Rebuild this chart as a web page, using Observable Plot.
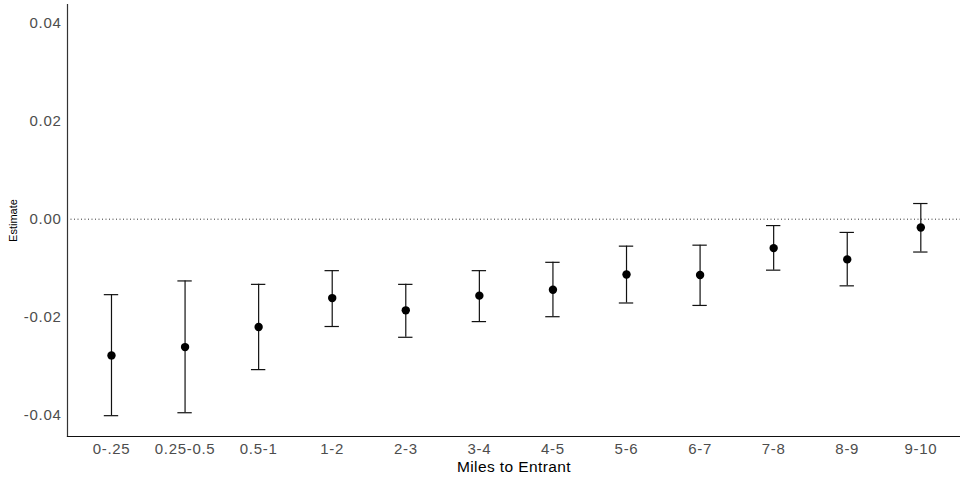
<!DOCTYPE html>
<html>
<head>
<meta charset="utf-8">
<script src="https://cdn.jsdelivr.net/npm/d3@7"></script>
<script src="https://cdn.jsdelivr.net/npm/@observablehq/plot@0.6"></script>
<style>
  html, body { margin: 0; padding: 0; background: #fff; }
  svg { display: block; }
  .tk text { letter-spacing: 0.7px; }
  .ttl text { letter-spacing: 0.4px; }
</style>
</head>
<body>
<div id="chart"></div>
<script>
const categories = ["0-.25","0.25-0.5","0.5-1","1-2","2-3","3-4","4-5","5-6","6-7","7-8","8-9","9-10"];
const estimates  = [-0.0278,-0.0261,-0.0220,-0.0161,-0.0186,-0.0156,-0.0144,-0.0113,-0.0114,-0.0059,-0.0082,-0.0017];
const lower      = [-0.0401,-0.0395,-0.0307,-0.0219,-0.0241,-0.0209,-0.0199,-0.0171,-0.0176,-0.0104,-0.0136,-0.0067];
const upper      = [-0.0154,-0.0126,-0.0133,-0.0105,-0.0133,-0.0105,-0.0088,-0.0055,-0.0053,-0.0013,-0.0027,0.0032];
const yTicks     = [-0.04,-0.02,0,0.02,0.04];

const data = categories.map((c, i) => ({cat: c, est: estimates[i], lo: lower[i], hi: upper[i]}));
const fmt = v => d3.format(".2f")(v).replace("−", "-");

const font = "'Liberation Sans', Arial, sans-serif";

const chart = Plot.plot({
  width: 960,
  height: 481,
  marginLeft: 67,
  marginRight: 0,
  marginTop: 4,
  marginBottom: 45,
  style: {fontFamily: font, background: "#fff"},
  x: {type: "band", domain: categories, range: [74.2, 957.1], padding: 0, round: false},
  y: {domain: [-0.04435, 0.04382]},
  marks: [
    Plot.axisY({ticks: yTicks, tickFormat: fmt, tickSize: 0, tickPadding: 6, label: null, fontSize: 15, fill: "#4d4d4d", className: "tk"}),
    Plot.axisX({tickSize: 0, tickPadding: 7, label: null, fontSize: 15, fill: "#4d4d4d", className: "tk"}),
    Plot.ruleY([0], {stroke: "#333", strokeWidth: 1, strokeDasharray: "1,2.5"}),
    Plot.ruleX(data, {x: "cat", y1: "lo", y2: "hi", stroke: "#111", strokeWidth: 1.2}),
    Plot.tickY(data, {x: "cat", y: "lo", stroke: "#111", strokeWidth: 1.2, insetLeft: 29.6, insetRight: 29.6}),
    Plot.tickY(data, {x: "cat", y: "hi", stroke: "#111", strokeWidth: 1.2, insetLeft: 29.6, insetRight: 29.6}),
    Plot.dot(data, {x: "cat", y: "est", r: 4.2, fill: "#000", stroke: "none"}),
    Plot.frame({anchor: "left", stroke: "#333", strokeWidth: 1.2}),
    Plot.frame({anchor: "bottom", stroke: "#111", strokeWidth: 1.2}),
    Plot.text(["Estimate"], {frameAnchor: "left", dx: -54, rotate: -90, text: d => d, fontSize: 11, fill: "#000", textAnchor: "middle", lineAnchor: "middle"}),
    Plot.text(["Miles to Entrant"], {frameAnchor: "bottom", dy: 31, text: d => d, fontSize: 15.5, fill: "#000", textAnchor: "middle", lineAnchor: "middle", className: "ttl"})
  ]
});
document.getElementById("chart").appendChild(chart);
</script>
</body>
</html>
